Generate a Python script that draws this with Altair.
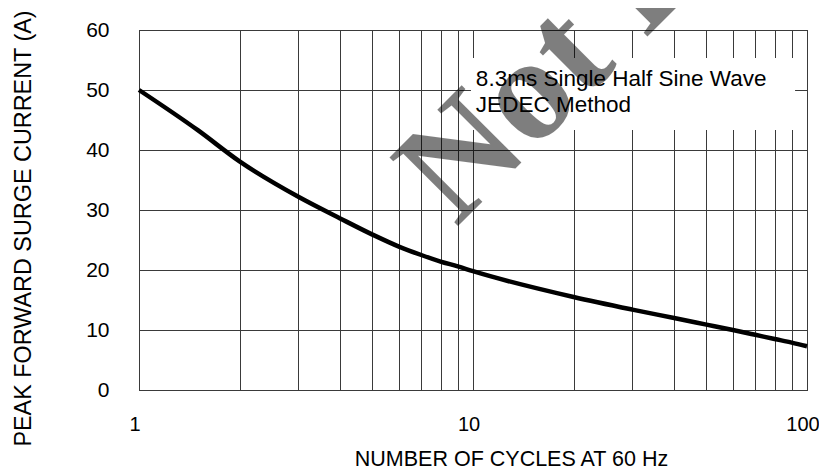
import altair as alt
import pandas as pd

# Curve: peak forward surge current vs number of cycles
cycles = [1, 1.5, 2, 3, 4, 5, 6, 7, 8, 9, 10, 20, 30, 40, 50, 60, 70, 80, 90, 100]
current = [50, 43.3, 38.1, 32.2, 28.6, 25.9, 23.9, 22.5, 21.4, 20.6, 19.8,
           15.5, 13.4, 12.0, 10.9, 10.0, 9.2, 8.5, 7.9, 7.3]

x_grid_values = [1, 2, 3, 4, 5, 6, 7, 8, 9, 10, 20, 30, 40, 50, 60, 70, 80, 90, 100]
y_ticks = [0, 10, 20, 30, 40, 50, 60]

note_lines = ["8.3ms Single Half Sine Wave", "JEDEC Method"]
note_x = [10.2, 10.2]
note_y = [50.67, 46.4]

note_box_x = [9.86]
note_box_x2 = [92.1]
note_box_y = [55.33]
note_box_y2 = [43.33]

watermark_text = ["Not Recommended"]
watermark_x = [8.9]
watermark_y = [27.0]

curve_df = pd.DataFrame({"x": cycles, "y": current})
note_df = pd.DataFrame({"x": note_x, "y": note_y, "t": note_lines})
box_df = pd.DataFrame({"x": note_box_x, "x2": note_box_x2, "y": note_box_y, "y2": note_box_y2})
wm_df = pd.DataFrame({"x": watermark_x, "y": watermark_y, "t": watermark_text})

xscale = alt.Scale(type="log", domain=[1, 100], nice=False)
yscale = alt.Scale(domain=[0, 60], nice=False)

label_expr = "(datum.value == 1 || datum.value == 10 || datum.value == 100) ? datum.label : ''"

xaxis = alt.Axis(
    values=x_grid_values, labelExpr=label_expr, labelOverlap=False,
    grid=True, gridColor="#3a3a3a", gridWidth=1, ticks=False, tickSize=0,
    domain=False, labelFont="Liberation Sans", labelFontSize=20, labelColor="black",
    labelBaseline="alphabetic", labelPadding=40, labelOffset=-4.5, labelFlush=False,
    title="NUMBER OF CYCLES AT 60 Hz", titleFont="Liberation Sans", titleFontSize=21.5,
    titleFontWeight="normal", titleColor="black", titleBaseline="alphabetic",
    titleAlign="center", titleX=372, titleY=75,
)
yaxis = alt.Axis(
    values=y_ticks, grid=True, gridColor="#3a3a3a", gridWidth=1, ticks=False, tickSize=0,
    domain=False, labelFont="Liberation Sans", labelFontSize=21, labelColor="black",
    labelPadding=30, labelFlush=False,
    title="PEAK FORWARD SURGE CURRENT (A)", titleFont="Liberation Sans", titleFontSize=23.4,
    titleFontWeight="normal", titleColor="black", titleBaseline="alphabetic",
    titleAlign="center", titleAngle=270, titleX=-109, titleY=198,
)

x_enc = alt.X("x:Q", scale=xscale, axis=xaxis)
y_enc = alt.Y("y:Q", scale=yscale, axis=yaxis)

box = alt.Chart(box_df).mark_rect(color="white", opacity=1).encode(
    x=x_enc, x2="x2:Q", y=y_enc, y2="y2:Q"
)

watermark = alt.Chart(wm_df).mark_text(
    angle=315, align="left", baseline="alphabetic", font="Liberation Serif",
    fontWeight="bold", fontSize=148, color="black", opacity=0.5
).encode(x=x_enc, y=y_enc, text="t:N")

note = alt.Chart(note_df).mark_text(
    align="left", baseline="alphabetic", font="Liberation Sans", fontSize=22.5, color="black"
).encode(x=x_enc, y=y_enc, text="t:N")

line = alt.Chart(curve_df).mark_line(
    color="black", strokeWidth=4.5, interpolate="monotone"
).encode(x=x_enc, y=y_enc)

chart = alt.layer(box, watermark, note, line).properties(
    width=668, height=360,
    autosize=alt.AutoSizeParams(type="none"),
    padding={"left": 131, "top": 22, "right": 12, "bottom": 80},
    background="white",
).configure_view(stroke="black", strokeWidth=1)

chart.save("out.html", embed_options={"renderer": "svg", "actions": False})
